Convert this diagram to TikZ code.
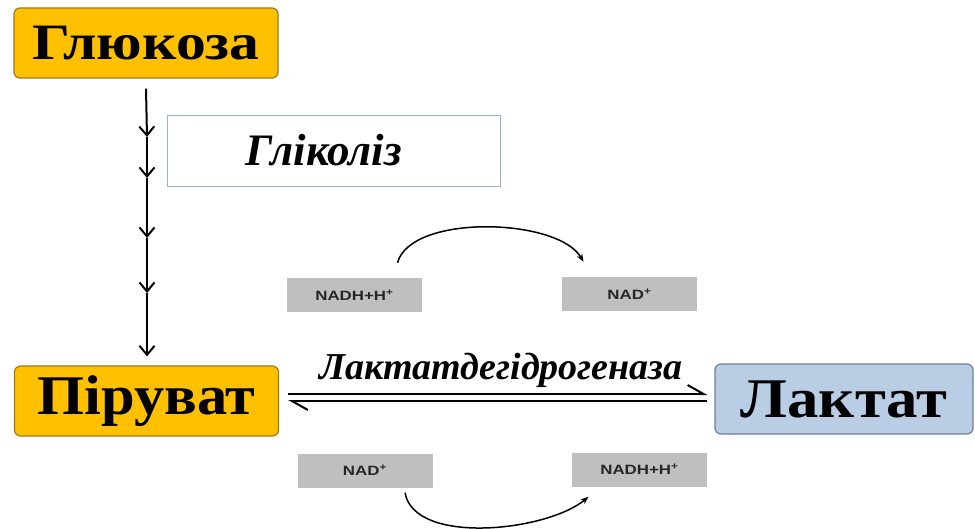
\documentclass[tikz,border=0pt]{standalone}
\usepackage{graphicx}
\usepackage{fontspec}
\setmainfont{Liberation Serif}
\newfontfamily\cofactorfont{Liberation Sans}
\usetikzlibrary{arrows.meta}
\definecolor{boxorange}{HTML}{FFC000}
\definecolor{orangeedge}{HTML}{9C7A1E}
\definecolor{boxblue}{HTML}{B9CDE5}
\definecolor{blueedge}{HTML}{6F7F95}
\definecolor{glycedge}{HTML}{95B3D7}
\definecolor{cofgray}{HTML}{BFBFBF}
\newcommand{\widen}[2]{\scalebox{#1}[1]{#2}}

\begin{document}
\begin{tikzpicture}[x=1pt, y=-1pt,
	substrate/.style={rounded corners=6pt, draw=orangeedge, fill=boxorange, line width=1.2pt, minimum width=264pt, minimum height=70pt, inner sep=0pt, font=\fontsize{56}{56}\selectfont\bfseries},
	cofactor/.style={fill=cofgray, minimum width=135pt, minimum height=34pt, inner sep=0pt, text=black!85, font=\cofactorfont\fontsize{13.5}{13.5}\selectfont\bfseries},
	chainarrow/.style={line width=2pt, -{Straight Barb[length=9pt, width=15pt]}},
	harpoon/.style={line width=2pt, -{Straight Barb[left, length=16pt, width=18pt]}},
	cycle/.style={line width=1.5pt, -{Stealth[length=8pt, width=6pt]}}]
	\useasboundingbox (0,0) rectangle (975,529);

	\node[substrate, font=\fontsize{51}{51}\selectfont\bfseries] (glucose) at (146,43) {\widen{1.17}{Глюкоза}};
	\node[substrate] (pyruvate) at (146.5,401) {\widen{1.08}{Піруват}};
	\node[substrate, fill=boxblue, draw=blueedge, minimum width=258pt] (lactate) at (844,399) {\widen{1.12}{Лактат}};

	\node[draw=glycedge, line width=1pt, minimum width=333pt, minimum height=71pt] (glycolysis) at (333.5,151.5) {};
	\node[font=\fontsize{45}{45}\selectfont\bfseries\itshape] (glycolysis-label) at (324,150) {Гліколіз};

	% glycolysis steps
	\coordinate (chain-0) at ([yshift=-10pt]glucose.south);
	\foreach \y [count=\i] in {137,178,238,293}
		\coordinate (chain-\i) at (147,\y);
	\foreach \a/\b in {0/1, 1/2, 2/3, 3/4}
		\draw[chainarrow] (chain-\a) -- (chain-\b);
	\draw[chainarrow, shorten >=9pt] (chain-4) -- (chain-4 |- pyruvate.north);

	% pyruvate <=> lactate
	\coordinate (forward) at ([yshift=7pt]pyruvate.east);
	\coordinate (backward) at (pyruvate.east);
	\draw[harpoon, shorten <=9pt, shorten >=7pt] (forward) -- (forward -| lactate.west);
	\draw[harpoon, shorten <=7pt, shorten >=9pt] (backward -| lactate.west) -- (backward);
	\node[anchor=base, font=\fontsize{38}{38}\selectfont\bfseries\itshape] (enzyme) at (501,380) {Лактатдегідрогеназа};

	\node[cofactor] (nadh-top) at (354.5,295) {\widen{1.25}{NADH+H\textsuperscript{+}}};
	\node[cofactor] (nad-top) at (629.5,294) {\widen{1.25}{NAD\textsuperscript{+}}};
	\node[cofactor] (nad-bottom) at (365,470.5) {\widen{1.25}{NAD\textsuperscript{+}}};
	\node[cofactor] (nadh-bottom) at (639.5,469.5) {\widen{1.25}{NADH+H\textsuperscript{+}}};

	\draw[cycle] ([xshift=43pt, yshift=15pt]nadh-top.north) to[out=75, in=120, looseness=0.7] ([xshift=-46pt, yshift=15pt]nad-top.north);
	\draw[cycle] ([xshift=40pt, yshift=-5pt]nad-bottom.south) to[out=-80, in=-140, looseness=0.75] ([xshift=-51pt, yshift=-10pt]nadh-bottom.south);
\end{tikzpicture}
\end{document}
